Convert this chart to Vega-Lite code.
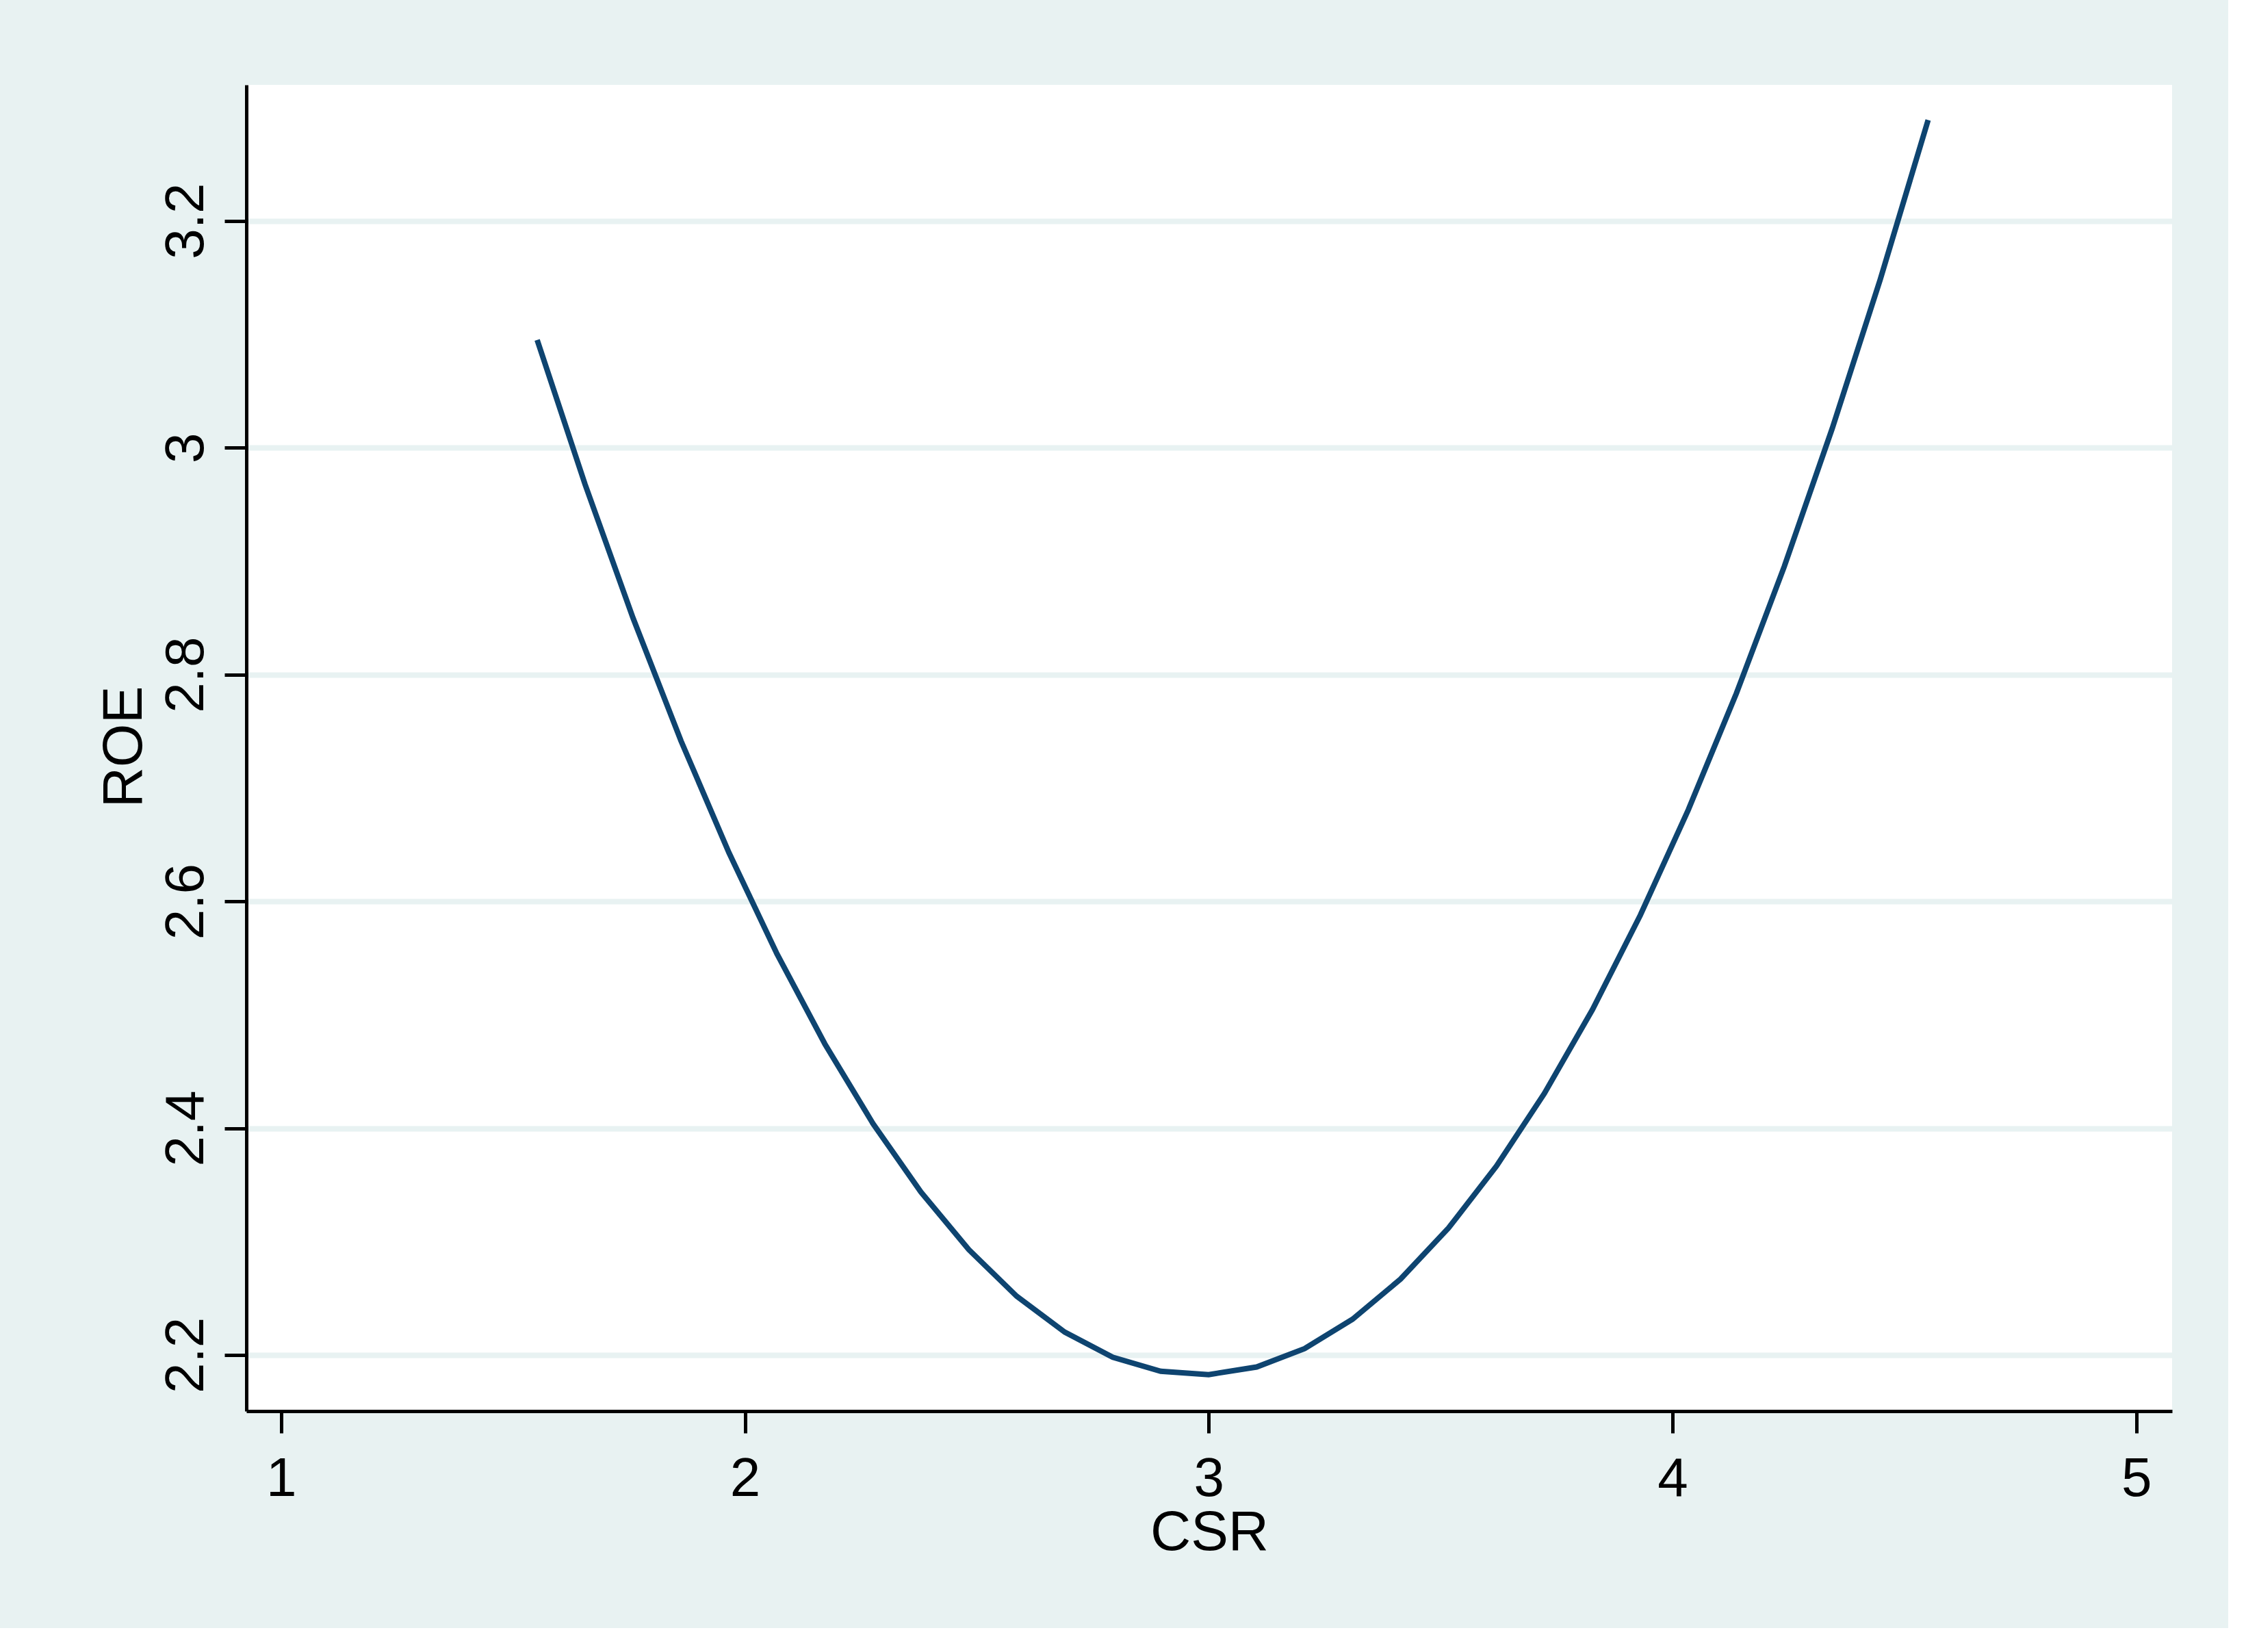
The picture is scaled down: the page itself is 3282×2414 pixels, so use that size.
{
  "$schema": "https://vega.github.io/schema/vega-lite/v6.json",
  "width": 2814,
  "height": 1938,
  "autosize": {"type": "none"},
  "padding": {"left": 360, "top": 124, "right": 82, "bottom": 317},
  "background": "#e8f2f2",
  "config": {
    "view": {"fill": "white", "stroke": null},
    "font": "Liberation Sans"
  },
  "data": {
    "values": [
      {"CSR": 1.552, "ROE": 3.0950},
      {"CSR": 1.6554, "ROE": 2.9675},
      {"CSR": 1.7588, "ROE": 2.8497},
      {"CSR": 1.8622, "ROE": 2.7414},
      {"CSR": 1.9657, "ROE": 2.6427},
      {"CSR": 2.0691, "ROE": 2.5536},
      {"CSR": 2.1725, "ROE": 2.4741},
      {"CSR": 2.2759, "ROE": 2.4041},
      {"CSR": 2.3793, "ROE": 2.3437},
      {"CSR": 2.4827, "ROE": 2.2929},
      {"CSR": 2.5861, "ROE": 2.2517},
      {"CSR": 2.6896, "ROE": 2.2201},
      {"CSR": 2.7930, "ROE": 2.1980},
      {"CSR": 2.8964, "ROE": 2.1856},
      {"CSR": 2.9998, "ROE": 2.1827},
      {"CSR": 3.1032, "ROE": 2.1894},
      {"CSR": 3.2066, "ROE": 2.2056},
      {"CSR": 3.3100, "ROE": 2.2315},
      {"CSR": 3.4135, "ROE": 2.2669},
      {"CSR": 3.5169, "ROE": 2.3119},
      {"CSR": 3.6203, "ROE": 2.3665},
      {"CSR": 3.7237, "ROE": 2.4307},
      {"CSR": 3.8271, "ROE": 2.5044},
      {"CSR": 3.9305, "ROE": 2.5878},
      {"CSR": 4.0339, "ROE": 2.6807},
      {"CSR": 4.1374, "ROE": 2.7832},
      {"CSR": 4.2408, "ROE": 2.8952},
      {"CSR": 4.3442, "ROE": 3.0169},
      {"CSR": 4.4476, "ROE": 3.1481},
      {"CSR": 4.5510, "ROE": 3.2889}
    ]
  },
  "mark": {"type": "line", "color": "#0e4470", "strokeWidth": 8},
  "encoding": {
    "x": {
      "field": "CSR",
      "type": "quantitative",
      "scale": {"domain": [0.925, 5.077], "nice": false, "zero": false},
      "axis": {
        "values": [1, 2, 3, 4, 5],
        "format": "~g",
        "grid": false,
        "domainColor": "black",
        "domainWidth": 5,
        "tickColor": "black",
        "tickWidth": 5,
        "tickSize": 32,
        "labelFontSize": 80,
        "labelColor": "black",
        "labelBaseline": "alphabetic",
        "labelPadding": 91,
        "labelFlush": false,
        "labelOverlap": false,
        "title": "CSR",
        "titleFontSize": 82,
        "titleFontWeight": "normal",
        "titleColor": "black",
        "titleBaseline": "alphabetic",
        "titleAlign": "center",
        "titleX": 1407,
        "titleY": 202
      }
    },
    "y": {
      "field": "ROE",
      "type": "quantitative",
      "scale": {"domain": [2.1505, 3.3199], "nice": false, "zero": false},
      "axis": {
        "values": [2.2, 2.4, 2.6, 2.8, 3, 3.2],
        "format": "~g",
        "grid": true,
        "gridColor": "#e8f2f2",
        "gridWidth": 8,
        "gridOpacity": 1,
        "domainColor": "black",
        "domainWidth": 5,
        "tickColor": "black",
        "tickWidth": 5,
        "tickSize": 32,
        "labelFontSize": 80,
        "labelColor": "black",
        "labelAngle": -90,
        "labelAlign": "center",
        "labelBaseline": "alphabetic",
        "labelPadding": 32,
        "labelFlush": false,
        "labelOverlap": false,
        "title": "ROE",
        "titleFontSize": 82,
        "titleFontWeight": "normal",
        "titleColor": "black",
        "titleAngle": -90,
        "titleAlign": "center",
        "titleBaseline": "alphabetic",
        "titleX": -154,
        "titleY": 967
      }
    }
  }
}
